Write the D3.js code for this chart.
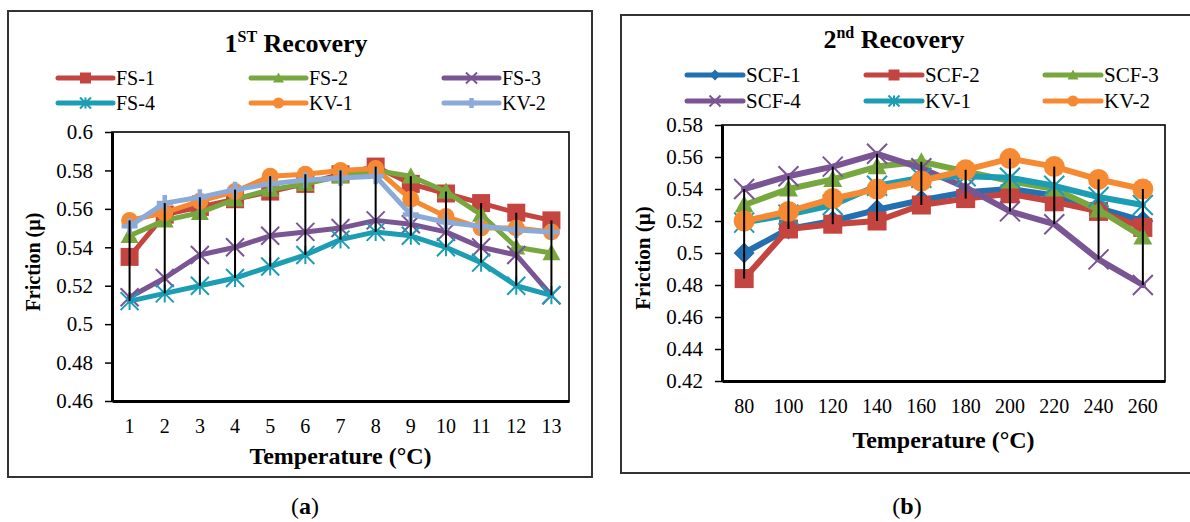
<!DOCTYPE html>
<html><head><meta charset="utf-8">
<script src="https://cdn.jsdelivr.net/npm/d3@7/dist/d3.min.js"></script>
<style>
body{margin:0;background:#fff}
svg{display:block}
svg text, svg tspan{font-family:"Liberation Serif","Times New Roman",Tinos,Times,serif !important}
</style>
</head><body><svg id="c" width="1190" height="522" font-family="Liberation Serif"></svg>
<script>
// ---------- DATA ----------
const catsA = ["1","2","3","4","5","6","7","8","9","10","11","12","13"];
const fs1 = [0.535,0.557,0.561,0.565,0.569,0.573,0.578,0.582,0.573,0.568,0.563,0.558,0.554];
const fs2 = [0.546,0.554,0.558,0.565,0.570,0.573,0.577,0.580,0.577,0.569,0.557,0.540,0.537];
const fs3 = [0.514,0.524,0.536,0.540,0.546,0.548,0.550,0.554,0.552,0.548,0.540,0.536,0.515];
const fs4 = [0.512,0.516,0.520,0.524,0.530,0.536,0.544,0.548,0.546,0.540,0.532,0.520,0.515];
const kv1a = [0.554,0.558,0.564,0.569,0.577,0.578,0.580,0.581,0.565,0.556,0.550,0.550,0.548];
const kv2a = [0.551,0.563,0.566,0.570,0.573,0.575,0.576,0.577,0.557,0.553,0.551,0.549,0.548];
const yTicksA = [0.46,0.48,0.5,0.52,0.54,0.56,0.58,0.6];

const catsB = ["80","100","120","140","160","180","200","220","240","260"];
const scf1 = [0.500,0.515,0.520,0.527,0.533,0.538,0.540,0.536,0.528,0.520];
const scf2 = [0.484,0.515,0.518,0.520,0.530,0.534,0.537,0.532,0.526,0.516];
const scf3 = [0.530,0.540,0.546,0.554,0.557,0.551,0.545,0.540,0.527,0.510];
const scf4 = [0.540,0.548,0.554,0.562,0.553,0.541,0.526,0.518,0.496,0.480];
const kv1b = [0.519,0.524,0.530,0.542,0.547,0.548,0.547,0.542,0.535,0.530];
const kv2b = [0.520,0.526,0.534,0.540,0.545,0.552,0.559,0.554,0.546,0.540];
const yTicksB = [0.42,0.44,0.46,0.48,0.5,0.52,0.54,0.56,0.58];

// ---------- STYLE ----------
const C = {red:"#C4443F",green:"#78A73F",purple:"#7A5594",teal:"#1C9DB3",orange:"#F68A33",lblue:"#8CAAD8",blue:"#2370B0"};
const svg = d3.select("#c");

function drawMarker(g, type, cx, cy, s, color){
  const h = s/2;
  if(type==="square") g.append("rect").attr("x",cx-h).attr("y",cy-h).attr("width",s).attr("height",s).attr("fill",color);
  else if(type==="circle") g.append("circle").attr("cx",cx).attr("cy",cy).attr("r",h).attr("fill",color);
  else if(type==="triangle") g.append("path").attr("d",`M${cx},${cy-h}L${cx+h},${cy+h*0.8}L${cx-h},${cy+h*0.8}Z`).attr("fill",color);
  else if(type==="diamond") g.append("path").attr("d",`M${cx},${cy-h}L${cx+h},${cy}L${cx},${cy+h}L${cx-h},${cy}Z`).attr("fill",color);
  else if(type==="x") g.append("path").attr("d",`M${cx-h},${cy-h}L${cx+h},${cy+h}M${cx-h},${cy+h}L${cx+h},${cy-h}`).attr("stroke",color).attr("stroke-width",2).attr("fill","none");
  else if(type==="star") g.append("path").attr("d",`M${cx-h},${cy-h}L${cx+h},${cy+h}M${cx-h},${cy+h}L${cx+h},${cy-h}M${cx},${cy-h}L${cx},${cy+h}`).attr("stroke",color).attr("stroke-width",2).attr("fill","none");
  else if(type==="plus") g.append("path").attr("d",`M${cx-h},${cy}L${cx+h},${cy}M${cx},${cy-h}L${cx},${cy+h}`).attr("stroke",color).attr("stroke-width",4.5).attr("fill","none");
}

function panel(p){
  const g = svg.append("g").attr("font-family","Liberation Serif");
  g.append("rect").attr("x",p.box[0]).attr("y",p.box[1]).attr("width",p.box[2]).attr("height",p.box[3])
    .attr("fill","#fff").attr("stroke","#333").attr("stroke-width",2);
  // title
  const t = g.append("text").attr("x",p.title.x).attr("y",p.title.y).attr("text-anchor","middle")
    .attr("font-weight","bold").attr("font-size",26);
  t.append("tspan").text(p.title.a);
  t.append("tspan").attr("font-size",16).attr("dy",-10).text(p.title.sup);
  t.append("tspan").attr("dy",10).text(" Recovery");
  // legend
  p.series.forEach((s,i)=>{
    const col = i%3, row = Math.floor(i/3);
    const lx = p.leg.x + col*p.leg.dx, ly = p.leg.y + row*p.leg.dy;
    g.append("line").attr("x1",lx).attr("x2",lx+p.leg.len).attr("y1",ly).attr("y2",ly)
      .attr("stroke",s.color).attr("stroke-width",5).attr("stroke-linecap","round");
    drawMarker(g, s.marker, lx+p.leg.len/2, ly, s.marker==="plus"?10:11, s.color);
    g.append("text").attr("x",lx+p.leg.len+3).attr("y",ly+7).attr("font-size",p.leg.fs).text(s.name);
  });
  const x = d3.scaleBand().domain(p.cats).range([p.plot.x0,p.plot.x1]);
  const y = d3.scaleLinear().domain([p.yTicks[0],p.yTicks[p.yTicks.length-1]]).range([p.plot.y1,p.plot.y0]);
  const cx = c => x(c)+x.bandwidth()/2;
  // frame
  g.append("rect").attr("x",p.plot.x0).attr("y",p.plot.y0).attr("width",p.plot.x1-p.plot.x0).attr("height",p.plot.y1-p.plot.y0)
    .attr("fill","none").attr("stroke","#000").attr("stroke-width",1.6);
  // y axis
  const ya = g.append("g").attr("transform",`translate(${p.plot.x0},0)`)
    .call(d3.axisLeft(y).tickValues(p.yTicks).tickFormat(d=>String(+d.toFixed(2))).tickSize(7).tickSizeOuter(0).tickPadding(12));
  ya.attr("font-family","Liberation Serif").attr("font-size",21);
  ya.select(".domain").attr("stroke-width",3);
  ya.selectAll(".tick line").attr("stroke-width",1.5);
  ya.selectAll("text").attr("font-size",21).attr("fill","#000");
  // x axis
  const xa = g.append("g").attr("transform",`translate(0,${p.plot.y1})`)
    .call(d3.axisBottom(x).tickSize(0).tickSizeOuter(0).tickPadding(18));
  xa.attr("font-family","Liberation Serif").attr("font-size",20);
  xa.select(".domain").attr("stroke-width",3);
  xa.selectAll("text").attr("font-size",20).attr("fill","#000");
  // axis titles
  g.append("text").attr("x",(p.plot.x0+p.plot.x1)/2).attr("y",p.xTitleY).attr("text-anchor","middle")
    .attr("font-weight","bold").attr("font-size",24).text("Temperature (°C)");
  g.append("text").attr("transform",`translate(${p.yTitle[0]},${p.yTitle[1]}) rotate(-90)`).attr("text-anchor","middle")
    .attr("font-weight","bold").attr("font-size",p.yTitle[2]).text("Friction (µ)");
  // series
  const line = d3.line().x((d,i)=>cx(p.cats[i])).y(d=>y(d));
  p.series.forEach(s=>{
    const sg = g.append("g");
    sg.append("path").attr("d",line(s.values)).attr("fill","none").attr("stroke",s.color)
      .attr("stroke-width",p.lw).attr("stroke-linejoin","round").attr("stroke-linecap","round");
    s.values.forEach((v,i)=>drawMarker(sg, s.marker, cx(p.cats[i]), y(v), p.ms[s.marker], s.color));
  });
  // high-low lines
  p.cats.forEach((c,i)=>{
    const vals = p.series.map(s=>s.values[i]);
    g.append("line").attr("x1",cx(c)).attr("x2",cx(c)).attr("y1",y(d3.max(vals))).attr("y2",y(d3.min(vals)))
      .attr("stroke","#000").attr("stroke-width",2);
  });
  // caption
  const cap = svg.append("text").attr("x",p.cap[0]).attr("y",p.cap[1]).attr("text-anchor","middle").attr("font-size",24);
  cap.append("tspan").text("(");
  cap.append("tspan").attr("font-weight","bold").text(p.cap[2]);
  cap.append("tspan").text(")");
}

panel({
  box:[8,11,584,466], title:{x:296,y:52,a:"1",sup:"ST"},
  leg:{x:58,y:78,dx:193,dy:25,len:55,fs:20},
  cats:catsA, yTicks:yTicksA, plot:{x0:112,x1:569,y0:132,y1:401},
  xTitleY:464, yTitle:[40,262,20], lw:5,
  ms:{square:18,triangle:18,x:18,star:18,circle:17,plus:16},
  series:[
    {name:"FS-1",values:fs1,color:C.red,marker:"square"},
    {name:"FS-2",values:fs2,color:C.green,marker:"triangle"},
    {name:"FS-3",values:fs3,color:C.purple,marker:"x"},
    {name:"FS-4",values:fs4,color:C.teal,marker:"star"},
    {name:"KV-1",values:kv1a,color:C.orange,marker:"circle"},
    {name:"KV-2",values:kv2a,color:C.lblue,marker:"plus"}
  ],
  cap:[305,514,"a"]
});
panel({
  box:[621,15,600,458], title:{x:894,y:48,a:"2",sup:"nd"},
  leg:{x:687,y:75,dx:179,dy:26,len:56,fs:21},
  cats:catsB, yTicks:yTicksB, plot:{x0:722,x1:1165,y0:125,y1:381},
  xTitleY:448, yTitle:[650,258,21], lw:6,
  ms:{square:19,triangle:19,x:20,star:20,circle:21,diamond:21},
  series:[
    {name:"SCF-1",values:scf1,color:C.blue,marker:"diamond"},
    {name:"SCF-2",values:scf2,color:C.red,marker:"square"},
    {name:"SCF-3",values:scf3,color:C.green,marker:"triangle"},
    {name:"SCF-4",values:scf4,color:C.purple,marker:"x"},
    {name:"KV-1",values:kv1b,color:C.teal,marker:"star"},
    {name:"KV-2",values:kv2b,color:C.orange,marker:"circle"}
  ],
  cap:[907,514,"b"]
});
svg.selectAll("text").style("font-family","'Liberation Serif', serif");
</script></body></html>
